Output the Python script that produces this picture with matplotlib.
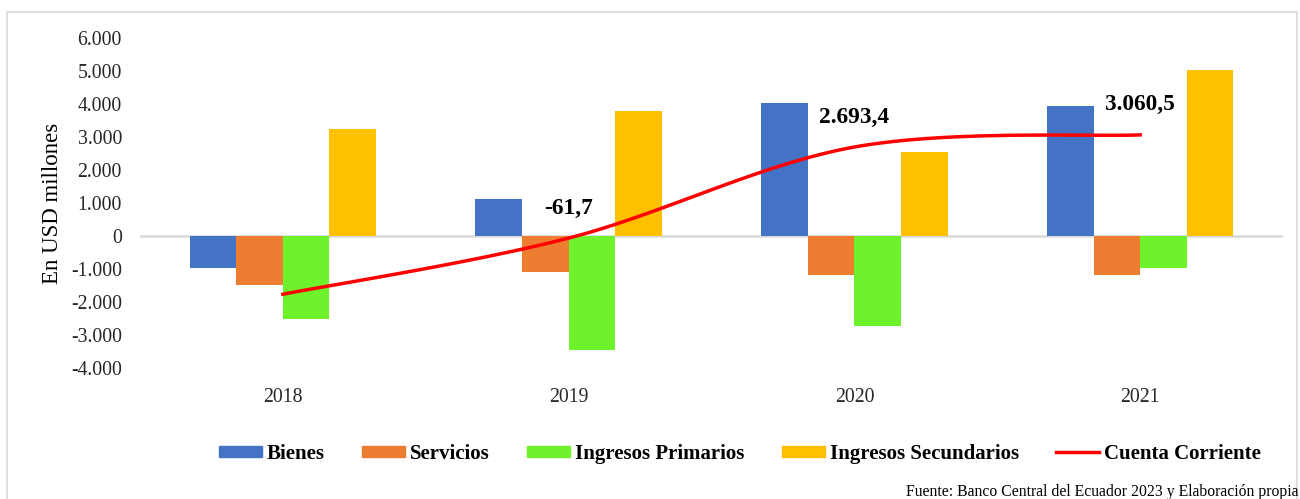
import numpy as np
import matplotlib.pyplot as plt
from matplotlib.patches import Rectangle, Patch
from matplotlib.lines import Line2D
from matplotlib.ticker import FuncFormatter

plt.rcParams['font.family'] = ['Liberation Serif', 'DejaVu Serif']

years = ['2018', '2019', '2020', '2021']
bienes = [-980, 1130, 4010, 3940]
servicios = [-1480, -1090, -1170, -1190]
ing_primarios = [-2510, -3460, -2720, -970]
ing_secundarios = [3250, 3770, 2550, 5010]
cuenta_corriente = [-1760, -61.7, 2693.4, 3060.5]
cc_labels = [None, '-61,7', '2.693,4', '3.060,5']

series = [
    ('Bienes', bienes, '#4472C4'),
    ('Servicios', servicios, '#ED7D31'),
    ('Ingresos Primarios', ing_primarios, '#6EF22B'),
    ('Ingresos Secundarios', ing_secundarios, '#FFC000'),
]


def smooth(xs, ys, n=40):
    # Catmull-Rom style smoothing, similar to Excel's "smoothed line"
    xs = np.asarray(xs, float)
    ys = np.asarray(ys, float)
    px = np.concatenate([[xs[0]], xs, [xs[-1]]])
    py = np.concatenate([[ys[0]], ys, [ys[-1]]])
    ox, oy = [], []
    for i in range(1, len(px) - 2):
        p0 = np.array([px[i - 1], py[i - 1]])
        p1 = np.array([px[i], py[i]])
        p2 = np.array([px[i + 1], py[i + 1]])
        p3 = np.array([px[i + 2], py[i + 2]])
        c1 = p1 + (p2 - p0) / 6
        c2 = p2 - (p3 - p1) / 6
        t = np.linspace(0, 1, n)[:, None]
        b = (1 - t) ** 3 * p1 + 3 * (1 - t) ** 2 * t * c1 + 3 * (1 - t) * t ** 2 * c2 + t ** 3 * p2
        ox.extend(b[:, 0])
        oy.extend(b[:, 1])
    return ox, oy


fig = plt.figure(figsize=(13, 4.99), dpi=100)
fig.patches.append(Rectangle((7 / 1300, -0.05), 1290 / 1300, 1.05 - 12 / 499,
                             transform=fig.transFigure, fill=False,
                             edgecolor='#d9d9d9', linewidth=1.2))

ax = fig.add_axes([140 / 1300, 1 - 368.3 / 499, 1143 / 1300, 330.6 / 499])
x = np.arange(len(years))
w = 0.163
for i, (name, vals, color) in enumerate(series):
    ax.bar(x + (i - 1.5) * w, vals, w, color=color, zorder=2)

ax.axhline(0, color='#d9d9d9', linewidth=1.8, zorder=1)

sx, sy = smooth(x, cuenta_corriente)
ax.plot(sx, sy, color='#FF0000', linewidth=2.5, zorder=3)
for xi, yi, lab in zip(x, cuenta_corriente, cc_labels):
    if lab:
        ax.annotate(lab, (xi, yi), xytext=(0, 30), textcoords='offset pixels',
                    ha='center', va='center', fontsize=16.8, fontweight='bold')

ax.set_xlim(-0.5, 3.5)
ax.set_ylim(-4000, 6000)
ax.set_yticks(range(-4000, 6001, 1000))
ax.yaxis.set_major_formatter(FuncFormatter(lambda v, p: f'{int(v):,}'.replace(',', '.')))
ax.set_xticks(x)
ax.set_xticklabels(years)
ax.tick_params(axis='both', length=0, labelsize=14.2, colors='#262626')
ax.tick_params(axis='x', pad=14)
ax.tick_params(axis='y', pad=13)
for s in ax.spines.values():
    s.set_visible(False)
ax.set_ylabel('En USD millones', fontsize=16.5, labelpad=6)

handles = [Patch(color=c, label=n) for n, v, c in series]
handles.append(Line2D([0], [0], color='#FF0000', linewidth=2.5, label='Cuenta Corriente'))
fig.legend(handles=handles, loc='center', bbox_to_anchor=(740 / 1300, 1 - 454 / 499),
           ncol=5, frameon=False, prop={'weight': 'bold', 'size': 15},
           handlelength=2.07, handleheight=0.48, handletextpad=0.24, columnspacing=1.78)

fig.text(1298 / 1300, 1 - 492 / 499, 'Fuente: Banco Central del Ecuador 2023 y Elaboración propia',
         ha='right', va='center', fontsize=11.3)

fig.savefig('out.png', dpi=100)
